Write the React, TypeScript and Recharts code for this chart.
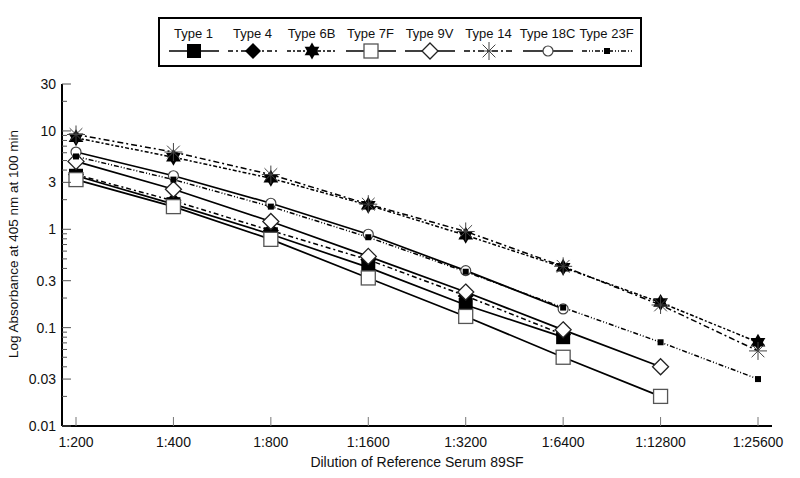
import React from 'react';
import { Legend, Line, LineChart, XAxis, YAxis } from 'recharts';

const dilutions = ['1:200', '1:400', '1:800', '1:1600', '1:3200', '1:6400', '1:12800', '1:25600'];

const type1 = [3.5, 1.8, 0.89, 0.41, 0.17, 0.08, null, null];
const type4 = [3.6, 1.95, 0.97, 0.49, 0.21, 0.085, null, null];
const type6B = [8.5, 5.4, 3.3, 1.76, 0.87, 0.41, 0.18, 0.071];
const type7F = [3.2, 1.7, 0.79, 0.32, 0.13, 0.05, 0.02, null];
const type9V = [4.9, 2.55, 1.2, 0.53, 0.23, 0.095, 0.04, null];
const type14 = [9.2, 6.1, 3.6, 1.8, 0.95, 0.42, 0.17, 0.058];
const type18C = [6.1, 3.5, 1.84, 0.89, 0.38, 0.155, null, null];
const type23F = [5.5, 3.2, 1.7, 0.83, 0.37, 0.16, 0.071, 0.03];

const yTicks = [
  0.01, 0.02, 0.03, 0.04, 0.05, 0.06, 0.07, 0.08, 0.09,
  0.1, 0.2, 0.3, 0.4, 0.5, 0.6, 0.7, 0.8, 0.9,
  1, 2, 3, 4, 5, 6, 7, 8, 9,
  10, 20, 30,
];
const yLabels = [0.01, 0.03, 0.1, 0.3, 1, 3, 10, 30];

type Shape =
  | 'filledSquare'
  | 'filledDiamond'
  | 'star6'
  | 'openSquare'
  | 'openDiamond'
  | 'asterisk'
  | 'openCircle'
  | 'smallSquare';

interface Series {
  key: string;
  name: string;
  values: (number | null)[];
  shape: Shape;
  dash?: string;
}

const series: Series[] = [
  { key: 'type1', name: 'Type 1', values: type1, shape: 'filledSquare' },
  { key: 'type4', name: 'Type 4', values: type4, shape: 'filledDiamond', dash: '5 3 2 3' },
  { key: 'type6B', name: 'Type 6B', values: type6B, shape: 'star6', dash: '4 2 2 2' },
  { key: 'type7F', name: 'Type 7F', values: type7F, shape: 'openSquare' },
  { key: 'type9V', name: 'Type 9V', values: type9V, shape: 'openDiamond' },
  { key: 'type14', name: 'Type 14', values: type14, shape: 'asterisk', dash: '6 3 2 3' },
  { key: 'type18C', name: 'Type 18C', values: type18C, shape: 'openCircle' },
  { key: 'type23F', name: 'Type 23F', values: type23F, shape: 'smallSquare', dash: '5 2 1 2 1 2' },
];

const data = dilutions.map((d, i) => {
  const row: Record<string, string | number | null> = { dilution: d };
  series.forEach((s) => {
    row[s.key] = s.values[i];
  });
  return row;
});

const FONT = '"Liberation Sans", Arial, Helvetica, sans-serif';

function Marker({ shape, cx, cy }: { shape: Shape; cx: number; cy: number }) {
  switch (shape) {
    case 'filledSquare':
      return <rect x={cx - 7} y={cy - 7} width={14} height={14} fill="#000" />;
    case 'filledDiamond':
      return <polygon points={`${cx},${cy - 8} ${cx + 8},${cy} ${cx},${cy + 8} ${cx - 8},${cy}`} fill="#000" />;
    case 'star6': {
      const r = 8.5;
      const tri = (off: number) =>
        [0, 1, 2]
          .map((k) => {
            const a = ((off + k * 120 - 90) * Math.PI) / 180;
            return `${cx + r * Math.cos(a)},${cy + r * Math.sin(a)}`;
          })
          .join(' ');
      return (
        <g fill="#000">
          <polygon points={tri(0)} />
          <polygon points={tri(60)} />
        </g>
      );
    }
    case 'openSquare':
      return <rect x={cx - 7} y={cy - 7} width={14} height={14} fill="#fff" stroke="#555" strokeWidth={1.3} />;
    case 'openDiamond':
      return (
        <polygon
          points={`${cx},${cy - 8} ${cx + 8},${cy} ${cx},${cy + 8} ${cx - 8},${cy}`}
          fill="#fff"
          stroke="#222"
          strokeWidth={1.3}
        />
      );
    case 'asterisk': {
      const r = 9;
      return (
        <g stroke="#444" strokeWidth={1}>
          {[0, 45, 90, 135].map((deg) => {
            const a = (deg * Math.PI) / 180;
            return (
              <line
                key={deg}
                x1={cx - r * Math.cos(a)}
                y1={cy - r * Math.sin(a)}
                x2={cx + r * Math.cos(a)}
                y2={cy + r * Math.sin(a)}
              />
            );
          })}
        </g>
      );
    }
    case 'openCircle':
      return <circle cx={cx} cy={cy} r={5} fill="#fff" stroke="#444" strokeWidth={1.2} />;
    case 'smallSquare':
      return <rect x={cx - 3} y={cy - 3} width={6} height={6} fill="#000" />;
    default:
      return null;
  }
}

const YTick = (props: any) => {
  const { x, y, payload } = props;
  const v = payload.value as number;
  const major = yLabels.includes(v);
  return (
    <g>
      <line x1={x} x2={x + (major ? 9 : 5)} y1={y} y2={y} stroke="#555" strokeWidth={1} />
      {major ? (
        <text x={x - 6} y={y} textAnchor="end" dominantBaseline="central" fontSize={14} fill="#111" fontFamily={FONT}>
          {v}
        </text>
      ) : null}
    </g>
  );
};

const XTick = (props: any) => {
  const { x, y, payload } = props;
  return (
    <g>
      <line x1={x} x2={x} y1={y} y2={y - 9} stroke="#777" strokeWidth={1} />
      <text x={x} y={y + 21} textAnchor="middle" fontSize={14} fill="#111" fontFamily={FONT}>
        {payload.value}
      </text>
    </g>
  );
};

const renderLegend = () => (
  <div
    style={{
      display: 'flex',
      border: '2px solid #000',
      width: 484,
      height: 50,
      padding: '0 4px',
      boxSizing: 'border-box',
      fontFamily: FONT,
      background: '#fff',
    }}
  >
    {series.map((s) => (
      <div key={s.key} style={{ width: 59, flex: '0 0 59px', textAlign: 'center', whiteSpace: 'nowrap' }}>
        <div style={{ fontSize: 13, lineHeight: '15px', marginTop: 7, color: '#111' }}>{s.name}</div>
        <svg width={50} height={18} style={{ display: 'block', margin: '1px auto 0' }}>
          <line x1={0} x2={50} y1={9} y2={9} stroke="#000" strokeWidth={1.6} strokeDasharray={s.dash} />
          <Marker shape={s.shape} cx={25} cy={9} />
        </svg>
      </div>
    ))}
  </div>
);

export default function App() {
  return (
    <div style={{ position: 'absolute', left: 0, top: 0, width: 800, height: 478, background: '#fff' }}>
      <LineChart width={800} height={478} data={data} margin={{ top: 84, right: 28, bottom: 12, left: 0 }}>
        <XAxis
          dataKey="dilution"
          type="category"
          interval={0}
          height={40}
          padding={{ left: 14, right: 14 }}
          axisLine={{ stroke: '#000', strokeWidth: 2 }}
          tickLine={false}
          tickSize={0}
          tickMargin={0}
          tick={<XTick />}
          label={{
            content: () => (
              <text x={417} y={467} textAnchor="middle" fontSize={14} fill="#111" fontFamily={FONT}>
                Dilution of Reference Serum 89SF
              </text>
            ),
          }}
        />
        <YAxis
          type="number"
          scale="log"
          domain={[0.01, 30]}
          allowDataOverflow
          ticks={yTicks}
          interval={0}
          width={62}
          axisLine={{ stroke: '#000', strokeWidth: 2 }}
          tickLine={false}
          tickSize={0}
          tickMargin={0}
          tick={<YTick />}
          label={{
            content: () => (
              <text
                x={13}
                y={244}
                transform="rotate(-90 13 244)"
                textAnchor="middle"
                dominantBaseline="central"
                fontSize={13.5}
                fill="#111"
                fontFamily={FONT}
              >
                Log Absorbance at 405 nm at 100 min
              </text>
            ),
          }}
        />
        <Legend
          layout="horizontal"
          verticalAlign="middle"
          content={renderLegend}
          wrapperStyle={{ position: 'absolute', left: 158, top: 17, width: 484, height: 50 }}
        />
        {series.map((s) => (
          <Line
            key={s.key}
            dataKey={s.key}
            name={s.name}
            stroke="#000"
            strokeWidth={s.dash ? 1.5 : 1.7}
            strokeDasharray={s.dash}
            isAnimationActive={false}
            dot={(p: any) => <Marker key={`${s.key}-${p.index}`} shape={s.shape} cx={p.cx} cy={p.cy} />}
            activeDot={false}
          />
        ))}
      </LineChart>
    </div>
  );
}
